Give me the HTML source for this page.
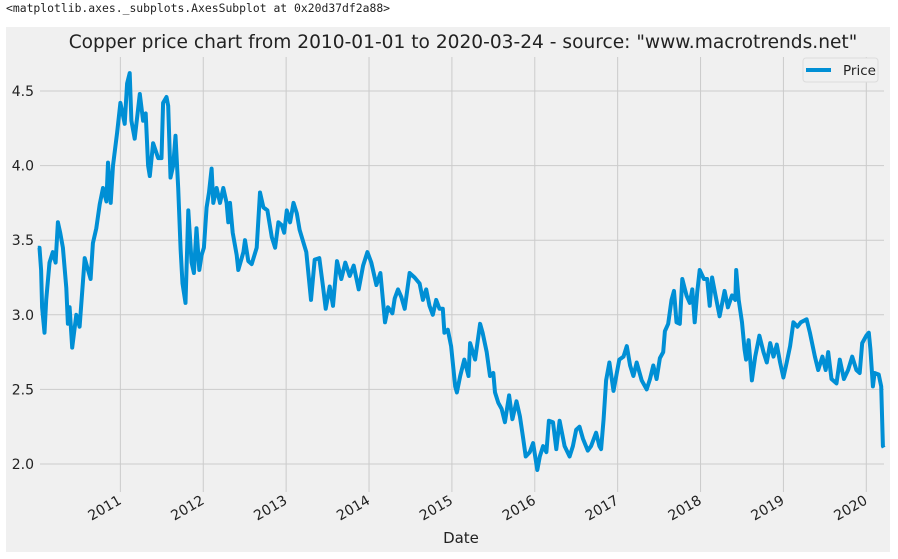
<!DOCTYPE html>
<html><head><meta charset="utf-8"><style>
body{margin:0;background:#fff;width:898px;height:559px;overflow:hidden;font-family:"DejaVu Sans","Liberation Sans",sans-serif}
#hdr{position:absolute;left:6px;top:1px;font:11.4px "DejaVu Sans Mono","Liberation Mono",monospace;color:#222}
svg{position:absolute;left:0;top:0}
</style></head><body>
<div id="hdr">&lt;matplotlib.axes._subplots.AxesSubplot at 0x20d37df2a88&gt;</div>
<svg id="c" width="898" height="559"></svg>
<script>
const dates=[2010.004,2010.024,2010.044,2010.056,2010.085,2010.105,2010.145,2010.185,2010.218,2010.246,2010.274,2010.306,2010.347,2010.367,2010.387,2010.419,2010.468,2010.508,2010.569,2010.609,2010.641,2010.669,2010.71,2010.75,2010.79,2010.831,2010.851,2010.883,2010.911,2010.96,2011.0,2011.052,2011.081,2011.113,2011.133,2011.173,2011.234,2011.274,2011.306,2011.335,2011.355,2011.395,2011.456,2011.496,2011.516,2011.556,2011.577,2011.605,2011.637,2011.665,2011.698,2011.726,2011.75,2011.786,2011.819,2011.859,2011.887,2011.919,2011.952,2011.98,2012.008,2012.04,2012.069,2012.101,2012.121,2012.161,2012.202,2012.242,2012.282,2012.302,2012.323,2012.355,2012.403,2012.423,2012.484,2012.504,2012.544,2012.585,2012.645,2012.685,2012.726,2012.774,2012.827,2012.867,2012.907,2012.948,2012.976,2013.008,2013.048,2013.089,2013.129,2013.163,2013.243,2013.3,2013.344,2013.4,2013.445,2013.477,2013.525,2013.565,2013.614,2013.666,2013.714,2013.767,2013.815,2013.875,2013.928,2013.98,2014.028,2014.089,2014.137,2014.193,2014.229,2014.282,2014.31,2014.35,2014.39,2014.43,2014.49,2014.55,2014.61,2014.65,2014.69,2014.73,2014.77,2014.81,2014.85,2014.89,2014.91,2014.95,2014.99,2015.04,2015.06,2015.1,2015.15,2015.2,2015.22,2015.28,2015.34,2015.37,2015.42,2015.46,2015.5,2015.52,2015.56,2015.6,2015.64,2015.69,2015.73,2015.78,2015.82,2015.86,2015.89,2015.94,2015.98,2016.03,2016.06,2016.1,2016.14,2016.17,2016.22,2016.26,2016.3,2016.36,2016.42,2016.46,2016.5,2016.54,2016.58,2016.64,2016.68,2016.74,2016.78,2016.8,2016.83,2016.86,2016.9,2016.95,2016.99,2017.02,2017.07,2017.11,2017.15,2017.19,2017.23,2017.29,2017.35,2017.39,2017.43,2017.47,2017.51,2017.55,2017.57,2017.61,2017.65,2017.68,2017.71,2017.75,2017.78,2017.83,2017.87,2017.9,2017.93,2017.96,2017.99,2018.04,2018.08,2018.11,2018.14,2018.18,2018.23,2018.29,2018.33,2018.38,2018.42,2018.43,2018.46,2018.5,2018.53,2018.55,2018.58,2018.62,2018.66,2018.71,2018.76,2018.8,2018.84,2018.88,2018.92,2018.96,2019.0,2019.04,2019.08,2019.12,2019.17,2019.21,2019.28,2019.32,2019.38,2019.42,2019.47,2019.51,2019.54,2019.58,2019.64,2019.68,2019.73,2019.78,2019.83,2019.88,2019.92,2019.95,2020.0,2020.03,2020.05,2020.08,2020.1,2020.15,2020.18,2020.2,2020.21];
const prices=[3.45,3.45,3.3,3.05,2.88,3.1,3.35,3.42,3.35,3.62,3.55,3.45,3.18,2.94,3.05,2.78,3.0,2.92,3.38,3.3,3.24,3.48,3.58,3.74,3.85,3.76,4.02,3.75,4.0,4.22,4.42,4.28,4.55,4.62,4.3,4.18,4.48,4.3,4.35,4.0,3.93,4.15,4.05,4.05,4.42,4.46,4.4,3.92,4.0,4.2,3.85,3.44,3.21,3.08,3.7,3.35,3.28,3.58,3.3,3.4,3.45,3.72,3.82,3.98,3.75,3.85,3.75,3.85,3.75,3.62,3.75,3.55,3.4,3.3,3.42,3.5,3.36,3.34,3.45,3.82,3.72,3.7,3.52,3.45,3.62,3.6,3.55,3.7,3.62,3.75,3.68,3.57,3.42,3.1,3.37,3.38,3.19,3.04,3.19,3.06,3.36,3.24,3.35,3.26,3.33,3.17,3.33,3.42,3.35,3.2,3.28,2.95,3.05,3.01,3.11,3.17,3.12,3.04,3.28,3.25,3.21,3.1,3.17,3.06,3.0,3.1,3.04,3.04,2.88,2.9,2.79,2.52,2.48,2.59,2.7,2.59,2.81,2.7,2.94,2.88,2.75,2.59,2.61,2.48,2.41,2.37,2.28,2.46,2.3,2.42,2.32,2.17,2.05,2.08,2.14,1.96,2.05,2.12,2.08,2.29,2.28,2.1,2.29,2.12,2.05,2.12,2.23,2.25,2.17,2.09,2.12,2.21,2.12,2.1,2.3,2.56,2.68,2.49,2.61,2.7,2.72,2.79,2.66,2.59,2.68,2.56,2.5,2.57,2.66,2.57,2.71,2.75,2.89,2.94,3.1,3.16,2.95,2.94,3.24,3.13,3.08,3.17,2.95,3.15,3.3,3.24,3.24,3.06,3.25,3.13,2.99,3.16,3.05,3.13,3.1,3.3,3.1,2.95,2.77,2.7,2.83,2.56,2.72,2.86,2.75,2.68,2.81,2.72,2.8,2.68,2.58,2.68,2.79,2.95,2.92,2.95,2.97,2.88,2.72,2.63,2.72,2.63,2.75,2.57,2.54,2.7,2.57,2.63,2.72,2.63,2.61,2.81,2.86,2.88,2.77,2.52,2.61,2.6,2.52,2.12,2.11];
const yTicks=[2.0,2.5,3.0,3.5,4.0,4.5];
const xTicks=[2011,2012,2013,2014,2015,2016,2017,2018,2019,2020];
const NS="http://www.w3.org/2000/svg";
const svg=document.getElementById('c');
const L=40,R=884,T=57,B=492;
function xs(t){return 37.5+(t-2010)*82.88;}
function ys(v){return 464-(v-2)*149.2;}
function mk(tag,attrs,parent){const e=document.createElementNS(NS,tag);for(const k in attrs)e.setAttribute(k,attrs[k]);(parent||svg).appendChild(e);return e;}
let bg=mk('rect',{x:6,y:27,width:884,height:525,fill:'#f0f0f0'});


yTicks.forEach(v=>{
  const g=mk('line',{x1:L,x2:R,y1:ys(v),y2:ys(v),stroke:'#cbcbcb','stroke-width':1});
  
  
  const t=mk('text',{x:34,y:ys(v)+5,'text-anchor':'end','font-size':14,fill:'#222'});
  t.textContent=v.toFixed(1);
  
  
});
xTicks.forEach(yr=>{
  const x=xs(yr);
  const g=mk('line',{x1:x,x2:x,y1:T,y2:B,stroke:'#cbcbcb','stroke-width':1});
  
  
  const t=mk('text',{x:x+2,y:503,'text-anchor':'end','font-size':14,fill:'#222',transform:`rotate(-30 ${x+2} 503)`});
  t.textContent=yr;
  
  
});
let d='';
dates.forEach((t,i)=>{d+=(i?'L':'M')+xs(t).toFixed(1)+','+ys(prices[i]).toFixed(1);});
const line=mk('path',{d:d,fill:'none',stroke:'#008fd5','stroke-width':4,'stroke-linejoin':'round'});


const title=mk('text',{x:463,y:48,'text-anchor':'middle','font-size':18.6,fill:'#222'});
title.textContent='Copper price chart from 2010-01-01 to 2020-03-24 - source: "www.macrotrends.net"';


const xl=mk('text',{x:461,y:543,'text-anchor':'middle','font-size':15,fill:'#222'});
xl.textContent='Date';


const lg=mk('g',{});


mk('rect',{x:803,y:58,width:75,height:24,rx:3,fill:'#f0f0f0',stroke:'#dcdcdc','stroke-width':1},lg);
const ll=mk('line',{x1:806,x2:831,y1:70,y2:70,stroke:'#008fd5','stroke-width':4},lg);


const lt=mk('text',{x:843,y:75,'font-size':13.5,fill:'#222'},lg);
lt.textContent='Price';


</script>
</body></html>
